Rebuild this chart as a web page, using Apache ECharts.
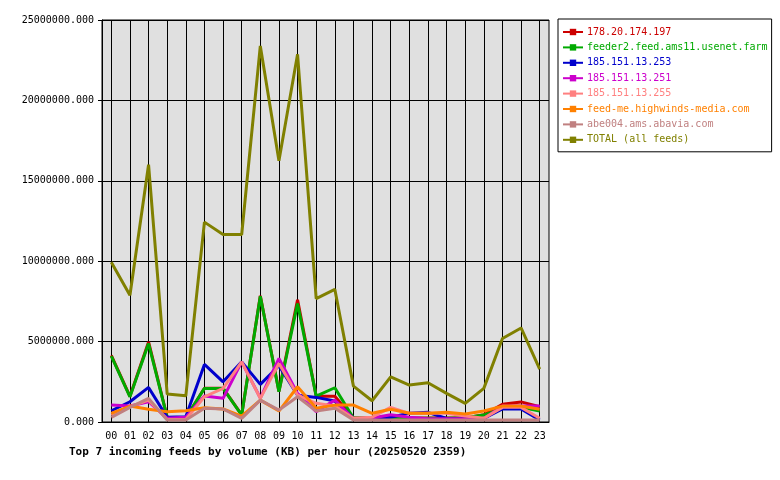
<!DOCTYPE html>
<html>
<head>
<meta charset="utf-8">
<script src="https://cdn.jsdelivr.net/npm/echarts@6/dist/echarts.min.js"></script>
<style>html,body{margin:0;padding:0;background:#fff}#c{width:780px;height:480px}</style>
</head>
<body>
<div id="c"></div>
<script>
const hours = ['00','01','02','03','04','05','06','07','08','09','10','11','12','13','14','15','16','17','18','19','20','21','22','23'];
const yTicks = [0, 5000000, 10000000, 15000000, 20000000, 25000000];
const titleText = 'Top 7 incoming feeds by volume (KB) per hour (20250520 2359)';

const names = ['178.20.174.197','feeder2.feed.ams11.usenet.farm','185.151.13.253','185.151.13.251','185.151.13.255','feed-me.highwinds-media.com','abe004.ams.abavia.com','TOTAL (all feeds)'];
const colors = ['#cc0000','#00aa00','#0000cc','#cc00cc','#ff8080','#ff8000','#c08080','#808000'];

const s178 =   [4150000,1600000,4980000,300000,250000,2100000,2100000,450000,7850000,1900000,7600000,1600000,1600000,250000,250000,250000,250000,250000,250000,250000,450000,1100000,1250000,950000];
const feeder2 =[4090000,1570000,4880000,290000,260000,2090000,2090000,430000,7820000,1880000,7360000,1610000,2130000,250000,250000,230000,230000,230000,230000,260000,430000,850000,910000,680000];
const s253 =   [700000,1260000,2150000,290000,330000,3580000,2500000,3740000,2340000,3500000,1670000,1530000,1300000,230000,200000,300000,550000,600000,220000,200000,220000,810000,810000,120000];
const s251 =   [1050000,990000,1260000,230000,290000,1610000,1470000,3740000,1490000,3950000,1780000,640000,1360000,200000,250000,450000,300000,200000,200000,200000,200000,990000,990000,990000];
const s255 =   [430000,950000,1360000,160000,160000,1570000,2090000,3740000,1470000,3640000,1670000,1160000,990000,230000,300000,910000,540000,540000,540000,370000,230000,910000,910000,230000];
const feedme = [540000,990000,790000,640000,700000,890000,810000,370000,1360000,680000,2190000,850000,1050000,1050000,540000,790000,540000,540000,600000,500000,680000,990000,990000,790000];
const abe004 = [290000,910000,1470000,120000,120000,850000,810000,230000,1360000,740000,1570000,680000,850000,120000,120000,120000,120000,120000,120000,120000,120000,120000,120000,120000];
const total =  [9940000,7880000,16000000,1740000,1630000,12430000,11660000,11660000,23390000,16250000,22870000,7670000,8250000,2230000,1320000,2810000,2300000,2440000,1780000,1160000,2090000,5190000,5850000,3290000];

const seriesData = [s178, feeder2, s253, s251, s255, feedme, abe004, total];
const mono = '"DejaVu Sans Mono", "Liberation Mono", monospace';

const chart = echarts.init(document.getElementById('c'), null, {renderer:'canvas'});
chart.setOption({
  animation: false,
  backgroundColor: '#ffffff',
  title: {
    text: titleText,
    left: 69, top: 447,
    padding: 0,
    textStyle: {fontFamily: mono, fontSize: 11, fontWeight: 'bold', color: '#000'}
  },
  grid: {
    left: 102, top: 20, right: 231, bottom: 58,
    show: true, backgroundColor: '#e0e0e0', borderColor: '#000', borderWidth: 1,
    containLabel: false
  },
  legend: {
    orient: 'vertical',
    left: 558, top: 19,
    padding: [8, 4, 7, 4],
    itemWidth: 20, itemHeight: 8, itemGap: 5.4,
    backgroundColor: '#fff', borderColor: '#000', borderWidth: 1, borderRadius: 0,
    textStyle: {fontFamily: mono, fontSize: 10, padding: [0,0,0,-1]},
    data: names.map((n, i) => ({name: n, textStyle: {color: colors[i]}}))
  },
  xAxis: {
    type: 'category', data: hours, boundaryGap: true,
    axisLine: {lineStyle: {color: '#000', width: 1}},
    axisTick: {alignWithLabel: true, length: 4, lineStyle: {color: '#000'}, interval: 0},
    axisLabel: {fontFamily: mono, fontSize: 10, color: '#000', margin: 9, interval: 0},
    splitLine: {show: true, alignWithLabel: true, interval: 0, lineStyle: {color: '#000', width: 1}}
  },
  yAxis: {
    type: 'value', min: yTicks[0], max: yTicks[yTicks.length-1], interval: yTicks[1]-yTicks[0],
    axisLine: {show: true, lineStyle: {color: '#000'}},
    axisTick: {show: true, length: 4, lineStyle: {color: '#000'}},
    axisLabel: {fontFamily: mono, fontSize: 10, color: '#000', margin: 8, formatter: v => v.toFixed(3)},
    splitLine: {show: true, lineStyle: {color: '#000', width: 1}}
  },
  series: names.map((n, i) => ({
    name: n, type: 'line', data: seriesData[i],
    color: colors[i],
    symbol: 'rect', symbolSize: 4, showSymbol: false,
    lineStyle: {width: 3, color: colors[i]},
    itemStyle: {color: colors[i]},
    emphasis: {disabled: true}
  }))
});
</script>
</body>
</html>
